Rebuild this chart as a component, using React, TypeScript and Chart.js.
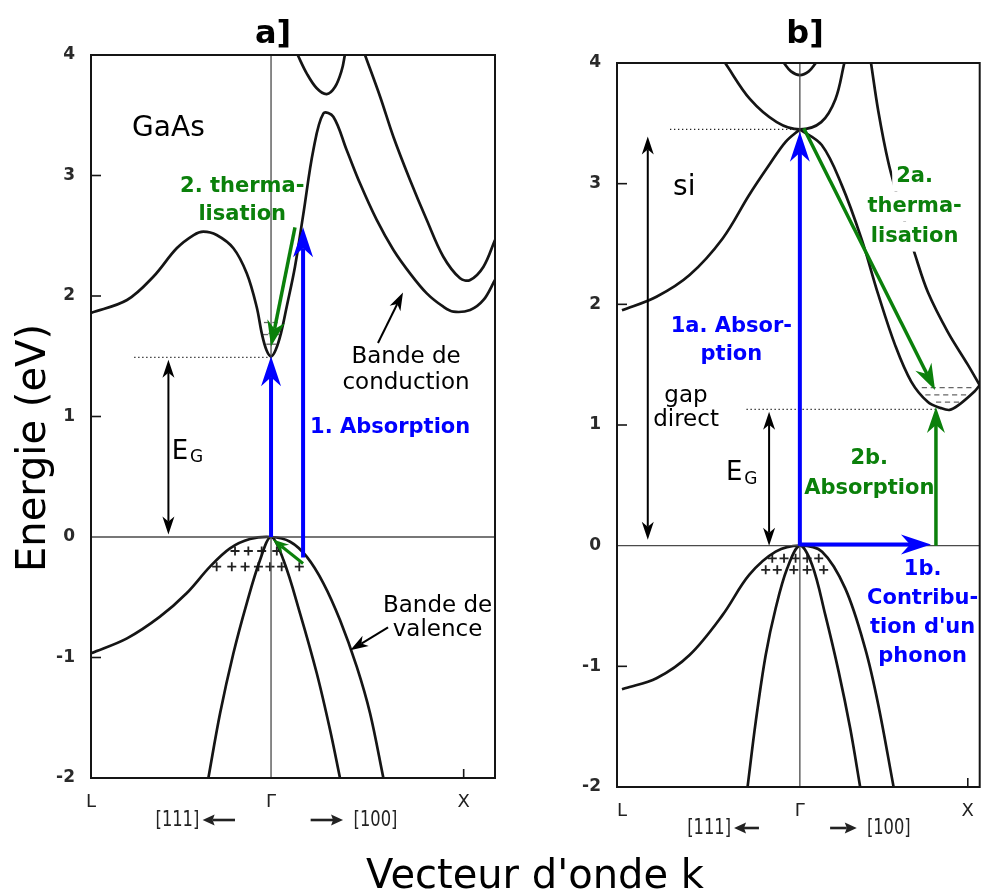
import React, { useEffect, useRef } from 'react';
import { Chart, registerables } from 'chart.js';
Chart.register(...registerables);

type Pt = [number, number];

// ---------- axes ----------
const ENERGY_TICKS = [-2, -1, 0, 1, 2, 3, 4];
const K_TICK_LABELS = ['L', 'Γ', 'X'];
const GAAS_K_TICKS = [-1, 0, 1.07];
const SI_K_TICKS = [-1, 0, 0.944];
const GAAS_K_RANGE: Pt = [-1, 1.244];
const SI_K_RANGE: Pt = [-1.028, 1.011];
const ENERGY_RANGE: Pt = [-2, 4];

// ---------- GaAs bands [k, E(eV)] ----------
const gaasConductionLow: Pt[] = [[-1, 1.86], [-0.8, 1.967], [-0.654, 2.16], [-0.524, 2.396], [-0.43, 2.506], [-0.376, 2.534], [-0.302, 2.506], [-0.209, 2.396], [-0.135, 2.188], [-0.08, 1.911], [-0.05, 1.68], [-0.025, 1.55], [0, 1.5], [0.025, 1.55], [0.055, 1.69], [0.087, 1.911], [0.133, 2.243], [0.18, 2.686], [0.235, 3.212], [0.291, 3.516], [0.346, 3.488], [0.42, 3.212], [0.494, 2.935], [0.587, 2.631], [0.68, 2.382], [0.772, 2.188], [0.865, 2.022], [0.957, 1.911], [1.013, 1.87], [1.106, 1.884], [1.18, 1.967], [1.244, 2.133]];
const gaasConductionHigh: Pt[] = [[0.522, 4.0], [0.606, 3.654], [0.68, 3.32], [0.772, 2.963], [0.865, 2.631], [0.957, 2.326], [1.05, 2.147], [1.106, 2.133], [1.18, 2.243], [1.244, 2.465]];
const gaasConductionTop: Pt[] = [[0.148, 4.0], [0.198, 3.848], [0.254, 3.724], [0.309, 3.676], [0.356, 3.737], [0.393, 3.876], [0.41, 4.0]];
const gaasHeavyHole: Pt[] = [[-1, -0.965], [-0.8, -0.841], [-0.617, -0.661], [-0.469, -0.467], [-0.339, -0.246], [-0.228, -0.094], [-0.117, -0.017], [0, 0], [0.106, -0.039], [0.198, -0.163], [0.291, -0.384], [0.383, -0.689], [0.476, -1.076], [0.55, -1.463], [0.624, -2.0]];
const gaasLightHole: Pt[] = [[-0.348, -2.0], [-0.283, -1.463], [-0.209, -0.965], [-0.135, -0.55], [-0.061, -0.191], [0, 0], [0.069, -0.191], [0.161, -0.633], [0.254, -1.131], [0.328, -1.602], [0.383, -2.0]];
const gaasZeroLine: Pt[] = [[-1, 0], [1.244, 0]];
const gaasGammaLine: Pt[] = [[0, -2], [0, 4]];
const gaasHoles: Pt[] = [[-0.2, -0.116], [-0.126, -0.116], [-0.052, -0.116], [0.032, -0.116], [-0.302, -0.246], [-0.218, -0.246], [-0.144, -0.246], [-0.07, -0.246], [-0.006, -0.246], [0.059, -0.246], [0.157, -0.246]];
const gaasElectrons: Pt[] = [[-0.025, 1.78], [0.022, 1.78], [-0.03, 1.68], [0, 1.69], [0.03, 1.68], [-0.012, 1.6], [0.015, 1.6]];

// GaAs annotations
const gaasAbsorptionArrow1: Pt[] = [[0, 0], [0, 1.5]];
const gaasAbsorptionArrow2: Pt[] = [[0.178, -0.17], [0.178, 2.57]];
const gaasThermalArrow: Pt[] = [[0.133, 2.57], [0.0, 1.58]];
const gaasHoleArrow: Pt[] = [[0.178, -0.22], [0.01, -0.02]];
const gaasGapArrow: Pt[] = [[-0.57, 0.02], [-0.57, 1.47]];
const gaasConductionPointer: Pt[] = [[0.594, 1.61], [0.733, 2.03]];
const gaasValencePointer: Pt[] = [[0.65, -0.75], [0.44, -0.94]];
const gaasGapLevel: Pt[] = [[-0.76, 1.49], [0.01, 1.49]];
const gaasNameText = ['GaAs'];
const gaasNameAt: Pt = [-0.57, 3.39];
const gaasThermalText = ['2. therma-', 'lisation'];
const gaasThermalAt: Pt = [-0.16, 2.79];
const gaasAbsorptionText = ['1. Absorption'];
const gaasAbsorptionAt: Pt = [0.217, 0.91];
const gaasConductionText = ['Bande de', 'conduction'];
const gaasConductionAt: Pt = [0.75, 1.386];
const gaasValenceText = ['Bande de', 'valence'];
const gaasValenceAt: Pt = [0.925, -0.672];
const gaasGapLabelAt: Pt = [-0.506, 0.705];
const gaasDirectionAt = { left: -0.52, leftArrow: [-0.2, -0.38], rightArrow: [0.22, 0.4], right: 0.58 };

// ---------- Si bands ----------
const siConductionLeft: Pt[] = [[-1, 1.95], [-0.806, 2.063], [-0.62, 2.243], [-0.434, 2.546], [-0.285, 2.906], [-0.173, 3.154], [-0.08, 3.347], [0, 3.45]];
const siConductionRight: Pt[] = [[0, 3.45], [0.123, 3.32], [0.235, 2.99], [0.347, 2.54], [0.441, 2.08], [0.536, 1.66], [0.626, 1.36], [0.72, 1.19], [0.793, 1.14], [0.842, 1.125], [0.888, 1.16], [0.983, 1.28], [1.011, 1.33]];
const siConductionFar: Pt[] = [[0.4, 4.0], [0.441, 3.6], [0.497, 3.18], [0.57, 2.78], [0.648, 2.41], [0.72, 2.1], [0.832, 1.77], [0.944, 1.5], [1.011, 1.33]];
const siUpperParabola: Pt[] = [[-0.42, 4.0], [-0.28, 3.7], [-0.13, 3.51], [0, 3.45], [0.12, 3.51], [0.2, 3.7], [0.25, 4.0]];
const siTopParabola: Pt[] = [[-0.09, 4.0], [-0.05, 3.93], [0, 3.9], [0.05, 3.93], [0.09, 4.0]];
const siHeavyHole: Pt[] = [[-1, -1.19], [-0.983, -1.182], [-0.806, -1.099], [-0.62, -0.906], [-0.434, -0.574], [-0.285, -0.243], [-0.136, -0.05], [0, 0], [0.125, -0.05], [0.255, -0.354], [0.367, -0.851], [0.441, -1.32], [0.527, -2.0]];
const siLightHole: Pt[] = [[-0.294, -2.0], [-0.248, -1.458], [-0.192, -0.906], [-0.136, -0.519], [-0.071, -0.188], [0, 0], [0.069, -0.16], [0.143, -0.574], [0.218, -1.044], [0.283, -1.514], [0.339, -2.0]];
const siZeroLine: Pt[] = [[-1.028, 0], [1.011, 0]];
const siGammaLine: Pt[] = [[0, -2], [0, 4]];
const siHoles: Pt[] = [[-0.155, -0.105], [-0.089, -0.105], [-0.024, -0.105], [0.041, -0.105], [0.106, -0.105], [-0.192, -0.2], [-0.127, -0.2], [-0.034, -0.2], [0.041, -0.2], [0.134, -0.2]];
const siElectrons: Pt[] = [[0.7, 1.31], [0.75, 1.31], [0.8, 1.31], [0.85, 1.31], [0.9, 1.31], [0.95, 1.31], [0.72, 1.25], [0.77, 1.25], [0.82, 1.25], [0.87, 1.25], [0.92, 1.25], [0.78, 1.19], [0.83, 1.19], [0.88, 1.19]];

// Si annotations
const siDirectArrow: Pt[] = [[0, 0], [0, 3.43]];
const siPhononArrow: Pt[] = [[0, 0.01], [0.737, 0.01]];
const siIndirectArrow: Pt[] = [[0.765, 0], [0.765, 1.15]];
const siThermalArrow: Pt[] = [[0.022, 3.46], [0.76, 1.29]];
const siDirectGapArrow: Pt[] = [[-0.855, 0.05], [-0.855, 3.39]];
const siGapArrow: Pt[] = [[-0.173, 0], [-0.173, 1.11]];
const siDirectLevel: Pt[] = [[-0.73, 3.45], [0, 3.45]];
const siGapLevel: Pt[] = [[-0.3, 1.13], [0.78, 1.13]];
const siNameText = ['si'];
const siNameAt: Pt = [-0.65, 2.97];
const siDirectGapText = ['gap', 'direct'];
const siDirectGapAt: Pt = [-0.64, 1.14];
const siDirectText = ['1a. Absor-', 'ption'];
const siDirectAt: Pt = [-0.385, 1.7];
const siThermalText = ['2a.', 'therma-', 'lisation'];
const siThermalAt: Pt = [0.645, 2.81];
const siIndirectText = ['2b.', 'Absorption'];
const siIndirectAt: Pt = [0.39, 0.6];
const siPhononText = ['1b.', 'Contribu-', "tion d'un", 'phonon'];
const siPhononAt: Pt = [0.69, -0.555];
const siGapLabelAt: Pt = [-0.369, 0.597];
const siDirectionAt = { left: -0.51, leftArrow: [-0.23, -0.37], rightArrow: [0.17, 0.32], right: 0.5 };

// ---------- styles ----------
const FONT = '"DejaVu Sans", sans-serif';
const BLUE = '#0000ff';
const GREEN = '#0b800b';
const INK = '#151515';
const ARROW_STYLES: Record<string, any> = {
  blue: { color: BLUE, width: 4, head: 30, half: 10, notch: 9 },
  green: { color: GREEN, width: 3.5, head: 26, half: 9, notch: 8 },
  greenSmall: { color: GREEN, width: 3, head: 16, half: 6, notch: 5 },
  black: { color: '#000', width: 2, head: 18, half: 6, notch: 5 },
};
const LABEL_STYLES: Record<string, any> = {
  name: { font: `28px ${FONT}`, color: '#000' },
  note: { font: `23px ${FONT}`, color: '#000' },
  green: { font: `bold 21px ${FONT}`, color: GREEN },
  blue: { font: `bold 21px ${FONT}`, color: BLUE },
};

function drawArrow(ctx: CanvasRenderingContext2D, x1: number, y1: number, x2: number, y2: number, st: any, both: boolean) {
  const ang = Math.atan2(y2 - y1, x2 - x1);
  const c = Math.cos(ang), s = Math.sin(ang);
  const back = st.head - st.notch;
  const sx = both ? x1 + c * back : x1, sy = both ? y1 + s * back : y1;
  const ex = x2 - c * back, ey = y2 - s * back;
  ctx.strokeStyle = st.color; ctx.lineWidth = st.width; ctx.lineCap = 'butt';
  ctx.beginPath(); ctx.moveTo(sx, sy); ctx.lineTo(ex, ey); ctx.stroke();
  const head = (tx: number, ty: number, a: number) => {
    const cc = Math.cos(a), ss = Math.sin(a);
    const pt = (u: number, v: number): [number, number] => [tx + u * cc - v * ss, ty + u * ss + v * cc];
    ctx.fillStyle = st.color; ctx.beginPath();
    ctx.moveTo(...pt(0, 0)); ctx.lineTo(...pt(-st.head, st.half)); ctx.lineTo(...pt(-st.head + st.notch, 0)); ctx.lineTo(...pt(-st.head, -st.half));
    ctx.closePath(); ctx.fill();
  };
  head(x2, y2, ang);
  if (both) head(x1, y1, ang + Math.PI);
}

function makeOverlay(cfg: any) {
  return {
    id: 'bandOverlay',
    afterDatasetsDraw(chart: any) {
      const { ctx, chartArea: a } = chart;
      const xs = chart.scales.x, ys = chart.scales.y;
      const px = (k: number) => xs.getPixelForValue(k);
      const py = (e: number) => ys.getPixelForValue(e);
      const drawLabel = (l: any) => {
        const st = LABEL_STYLES[l.style];
        ctx.font = st.font; ctx.textBaseline = 'middle'; ctx.textAlign = l.align || 'center';
        const n = l.lines.length; const x0 = px(l.at[0]); const yc = py(l.at[1]);
        l.lines.forEach((t: string, i: number) => {
          const yy = yc + (i - (n - 1) / 2) * l.lh;
          if (l.halo) {
            const w = ctx.measureText(t).width;
            ctx.fillStyle = '#fff'; ctx.fillRect(x0 - w / 2 - 4, yy - l.lh / 2, w + 8, l.lh);
          }
          ctx.fillStyle = st.color;
          ctx.fillText(t, x0, yy);
        });
      };
      ctx.save();
      // frame
      ctx.strokeStyle = INK; ctx.lineWidth = 2;
      ctx.strokeRect(a.left, a.top, a.right - a.left, a.bottom - a.top);
      // inner ticks
      ctx.lineWidth = 1.6;
      ENERGY_TICKS.forEach((v) => {
        if (v > ENERGY_RANGE[0] && v < ENERGY_RANGE[1] && v !== 0) {
          ctx.beginPath(); ctx.moveTo(a.left, py(v)); ctx.lineTo(a.left + 10, py(v)); ctx.stroke();
        }
      });
      const xm = px(cfg.kTicks[2]);
      ctx.beginPath(); ctx.moveTo(xm, a.bottom); ctx.lineTo(xm, a.bottom - 9); ctx.stroke();
      // dotted levels
      ctx.setLineDash([1.3, 2.7]); ctx.lineWidth = 1.2; ctx.strokeStyle = '#222';
      cfg.dotted.forEach((d: Pt[]) => {
        ctx.beginPath(); ctx.moveTo(px(d[0][0]), py(d[0][1])); ctx.lineTo(px(d[1][0]), py(d[1][1])); ctx.stroke();
      });
      ctx.setLineDash([]);
      // labels with white background first
      cfg.labels.filter((l: any) => l.halo).forEach(drawLabel);
      // arrows
      cfg.arrows.forEach((ar: any) => {
        drawArrow(ctx, px(ar.pts[0][0]), py(ar.pts[0][1]), px(ar.pts[1][0]), py(ar.pts[1][1]), ARROW_STYLES[ar.style], !!ar.both);
      });
      // other labels
      cfg.labels.filter((l: any) => !l.halo).forEach(drawLabel);
      // E_G
      {
        const x0 = px(cfg.gapLabel[0]), y0 = py(cfg.gapLabel[1]);
        ctx.fillStyle = '#000'; ctx.textBaseline = 'middle'; ctx.textAlign = 'center';
        ctx.font = `26px ${FONT}`; ctx.fillText('E', x0, y0);
        ctx.textAlign = 'left'; ctx.font = `17px ${FONT}`; ctx.fillText('G', x0 + 10, y0 + 6);
      }
      // directions under the axis
      {
        const d = cfg.dir; const yy = a.bottom + cfg.dirOffset;
        ctx.fillStyle = '#222'; ctx.font = `22px ${FONT}`; ctx.textBaseline = 'middle'; ctx.textAlign = 'center';
        const squeezed = (t: string, x: number) => {
          ctx.save(); ctx.translate(x, yy); ctx.scale(0.74, 1); ctx.fillText(t, 0, 0); ctx.restore();
        };
        squeezed('[111]', px(d.left));
        squeezed('[100]', px(d.right));
        const st = { color: '#222', width: 2.6, head: 12, half: 5.5, notch: 2 };
        drawArrow(ctx, px(d.leftArrow[0]), yy, px(d.leftArrow[1]), yy, st, false);
        drawArrow(ctx, px(d.rightArrow[0]), yy, px(d.rightArrow[1]), yy, st, false);
      }
      ctx.restore();
    },
  };
}

const toXY = (pts: Pt[]) => pts.map(([x, y]) => ({ x, y }));
const bandDS = (pts: Pt[]) => ({ data: toXY(pts), borderColor: INK, borderWidth: 2.7, pointRadius: 0, fill: false, tension: 0.35 });
const refDS = (pts: Pt[]) => ({ data: toXY(pts), borderColor: '#4a4a4a', borderWidth: 1.3, pointRadius: 0, fill: false, tension: 0 });
const holeDS = (pts: Pt[]) => ({ data: toXY(pts), showLine: false, pointStyle: 'cross', pointRadius: 4.5, borderWidth: 1.8, borderColor: '#222', backgroundColor: '#222' });
const elecDS = (pts: Pt[]) => ({ data: toXY(pts), showLine: false, pointStyle: 'line', pointRadius: 2.6, borderWidth: 1.3, borderColor: '#666', backgroundColor: '#666' });

const CANVAS_H = 896;

function buildChart(canvas: HTMLCanvasElement, cfg: any) {
  const offset = cfg.offset;
  return new Chart(canvas, {
    type: 'line',
    data: { datasets: cfg.datasets },
    options: {
      animation: false,
      responsive: false,
      events: [],
      layout: { padding: { top: cfg.area.top, right: cfg.width - (cfg.area.right - offset), left: 0, bottom: 0 } },
      plugins: { legend: { display: false }, tooltip: { enabled: false } },
      scales: {
        x: {
          type: 'linear', min: cfg.kRange[0], max: cfg.kRange[1],
          grid: { display: false }, border: { display: false },
          afterBuildTicks: (s: any) => { s.ticks = cfg.kTicks.map((value: number) => ({ value })); },
          afterFit: (s: any) => { s.height = CANVAS_H - cfg.area.bottom; },
          ticks: { autoSkip: false, maxRotation: 0, padding: 6, color: '#222', font: { family: FONT, size: 18 }, callback: (_v: any, i: number) => K_TICK_LABELS[i] },
        },
        y: {
          type: 'linear', min: ENERGY_RANGE[0], max: ENERGY_RANGE[1],
          grid: { display: false }, border: { display: false },
          afterBuildTicks: (s: any) => { s.ticks = ENERGY_TICKS.map((value) => ({ value })); },
          afterFit: (s: any) => { s.width = cfg.area.left - offset; },
          ticks: { padding: 8, color: '#2a2a2a', font: { family: FONT, size: 17, weight: 'bold' }, callback: (v: any) => String(v) },
        },
      },
    } as any,
    plugins: [makeOverlay(cfg)],
  });
}

const gaasConfig = {
  offset: 0, width: 530,
  area: { left: 91, top: 55, right: 495, bottom: 778 },
  kRange: GAAS_K_RANGE, kTicks: GAAS_K_TICKS,
  datasets: [
    refDS(gaasZeroLine), refDS(gaasGammaLine),
    bandDS(gaasConductionLow), bandDS(gaasConductionHigh), bandDS(gaasConductionTop),
    bandDS(gaasHeavyHole), bandDS(gaasLightHole),
    holeDS(gaasHoles), elecDS(gaasElectrons),
  ],
  dotted: [gaasGapLevel],
  arrows: [
    { pts: gaasGapArrow, style: 'black', both: true },
    { pts: gaasConductionPointer, style: 'black' },
    { pts: gaasValencePointer, style: 'black' },
    { pts: gaasAbsorptionArrow1, style: 'blue' },
    { pts: gaasAbsorptionArrow2, style: 'blue' },
    { pts: gaasThermalArrow, style: 'green' },
    { pts: gaasHoleArrow, style: 'greenSmall' },
  ],
  labels: [
    { lines: gaasNameText, at: gaasNameAt, style: 'name', lh: 30 },
    { lines: gaasThermalText, at: gaasThermalAt, style: 'green', lh: 28 },
    { lines: gaasAbsorptionText, at: gaasAbsorptionAt, style: 'blue', lh: 26, align: 'left' },
    { lines: gaasConductionText, at: gaasConductionAt, style: 'note', lh: 26 },
    { lines: gaasValenceText, at: gaasValenceAt, style: 'note', lh: 24 },
  ],
  gapLabel: gaasGapLabelAt,
  dir: gaasDirectionAt, dirOffset: 42,
};

const siConfig = {
  offset: 530, width: 456,
  area: { left: 617, top: 63, right: 982, bottom: 787 },
  kRange: SI_K_RANGE, kTicks: SI_K_TICKS,
  datasets: [
    refDS(siZeroLine), refDS(siGammaLine),
    bandDS(siConductionLeft), bandDS(siConductionRight), bandDS(siConductionFar),
    bandDS(siUpperParabola), bandDS(siTopParabola),
    bandDS(siHeavyHole), bandDS(siLightHole),
    holeDS(siHoles), elecDS(siElectrons),
  ],
  dotted: [siDirectLevel, siGapLevel],
  arrows: [
    { pts: siDirectGapArrow, style: 'black', both: true },
    { pts: siGapArrow, style: 'black', both: true },
    { pts: siDirectArrow, style: 'blue' },
    { pts: siPhononArrow, style: 'blue' },
    { pts: siIndirectArrow, style: 'green' },
    { pts: siThermalArrow, style: 'green' },
  ],
  labels: [
    { lines: siThermalText, at: siThermalAt, style: 'green', lh: 30, halo: true },
    { lines: siNameText, at: siNameAt, style: 'name', lh: 30 },
    { lines: siDirectGapText, at: siDirectGapAt, style: 'note', lh: 24 },
    { lines: siDirectText, at: siDirectAt, style: 'blue', lh: 28 },
    { lines: siIndirectText, at: siIndirectAt, style: 'green', lh: 30 },
    { lines: siPhononText, at: siPhononAt, style: 'blue', lh: 29 },
  ],
  gapLabel: siGapLabelAt,
  dir: siDirectionAt, dirOffset: 41,
};

export default function App() {
  const refA = useRef<HTMLCanvasElement>(null);
  const refB = useRef<HTMLCanvasElement>(null);
  useEffect(() => {
    const a = buildChart(refA.current!, gaasConfig);
    const b = buildChart(refB.current!, siConfig);
    return () => { a.destroy(); b.destroy(); };
  }, []);
  const text: React.CSSProperties = { position: 'absolute', fontFamily: FONT, color: '#000', lineHeight: 1, whiteSpace: 'nowrap' };
  return (
    <div style={{ position: 'absolute', left: 0, top: 0, width: 986, height: 896, background: '#fff', overflow: 'hidden' }}>
      <canvas ref={refA} width={530} height={896} style={{ position: 'absolute', left: 0, top: 0 }} />
      <canvas ref={refB} width={456} height={896} style={{ position: 'absolute', left: 530, top: 0 }} />
      <div style={{ ...text, left: 273, top: 16, fontSize: 32, fontWeight: 'bold', transform: 'translateX(-50%)' }}>a]</div>
      <div style={{ ...text, left: 805, top: 16, fontSize: 32, fontWeight: 'bold', transform: 'translateX(-50%)' }}>b]</div>
      <div style={{ ...text, left: 31, top: 448, fontSize: 40, transform: 'translate(-50%, -50%) rotate(-90deg)' }}>Energie (eV)</div>
      <div style={{ ...text, left: 535, top: 854, fontSize: 40, transform: 'translateX(-50%)' }}>Vecteur d'onde k</div>
    </div>
  );
}
